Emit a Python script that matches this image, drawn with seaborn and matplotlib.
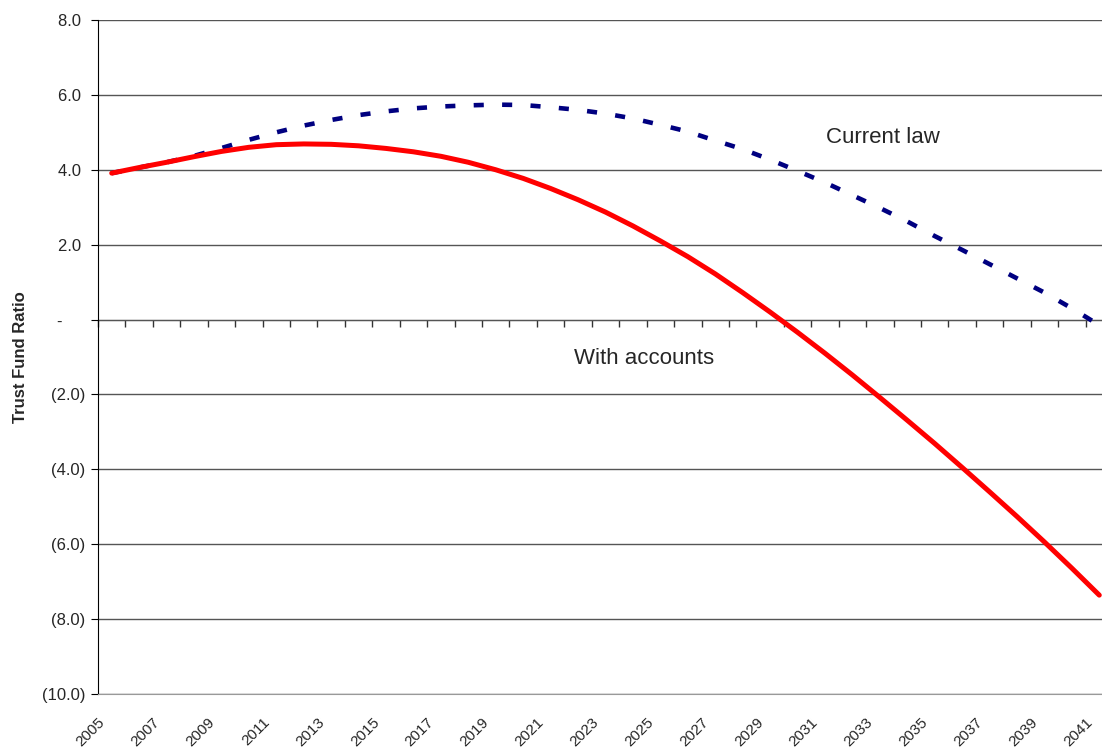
import numpy as np
import pandas as pd
import seaborn as sns
import matplotlib.pyplot as plt
import matplotlib.transforms as mtransforms
from matplotlib.ticker import FuncFormatter

sns.set_style("white")
plt.rcParams['font.family'] = ['Liberation Sans', 'DejaVu Sans']

years = list(range(2005, 2042))
current_law = [3.91, 4.06, 4.20, 4.37, 4.58, 4.80, 5.00, 5.18, 5.33, 5.46,
               5.56, 5.64, 5.69, 5.72, 5.74, 5.73, 5.67, 5.60, 5.50, 5.37,
               5.20, 5.02, 4.78, 4.55, 4.27, 3.97, 3.66, 3.32, 2.98, 2.62,
               2.23, 1.86, 1.48, 1.10, 0.72, 0.30, -0.15]
with_accounts = [3.91, 4.06, 4.20, 4.35, 4.49, 4.60, 4.67, 4.69, 4.68, 4.64,
                 4.57, 4.48, 4.36, 4.20, 4.00, 3.77, 3.50, 3.20, 2.87, 2.50,
                 2.10, 1.68, 1.22, 0.72, 0.20, -0.34, -0.90, -1.48, -2.08, -2.69,
                 -3.31, -3.95, -4.60, -5.26, -5.94, -6.64, -7.36]
y_ticks = [8, 6, 4, 2, 0, -2, -4, -6, -8, -10]

df = pd.DataFrame({'year': years, 'Current law': current_law, 'With accounts': with_accounts})

fig = plt.figure(figsize=(11.02, 7.48), dpi=100)
# plot area runs a little past the right edge of the picture (cropped like the original)
ax = fig.add_axes([98 / 1102, 54 / 748, 1015 / 1102, 674 / 748])

sns.lineplot(data=df, x='year', y='Current law', ax=ax, color='#000080', lw=3.3)
ax.lines[-1].set_dashes((2.2, 4.0))
sns.lineplot(data=df, x='year', y='With accounts', ax=ax, color='#FF0000', lw=3.6)


def fmt(v, p):
    if v == 0:
        return '-' + ' ' * 5
    if v > 0:
        return f'{v:.1f} '
    return f'({-v:.1f})'


ax.set_xlim(2004.5, 2041.5)
ax.set_ylim(-10, 8)
ax.set_yticks(y_ticks)
ax.yaxis.set_major_formatter(FuncFormatter(fmt))
ax.grid(axis='y', color='#555555', lw=1)
ax.set_axisbelow(True)

ax.set_xticks(years[::2])
ax.set_xticklabels([str(y) for y in years[::2]], rotation=45, ha='right',
                   rotation_mode='anchor', fontsize=11)
ax.tick_params(axis='x', length=0, pad=15)
shift = mtransforms.ScaledTranslation(-14 / 100, 0, fig.dpi_scale_trans)
for lab in ax.get_xticklabels():
    lab.set_transform(lab.get_transform() + shift)
ax.tick_params(axis='y', length=5, direction='out', color='black', labelsize=12, pad=4, left=True)

for s in ['top', 'right']:
    ax.spines[s].set_visible(False)
ax.spines['left'].set_color('black')
ax.spines['bottom'].set_color('#999999')

# zero line carrying the category tick marks
zero_ax = ax.secondary_xaxis(10 / 18)
zero_ax.set_xticks(np.arange(2004.5, 2042, 1))
zero_ax.set_xticklabels([])
zero_ax.tick_params(length=5, direction='in', color='#333333', width=1)
for s in zero_ax.spines.values():
    s.set_color('#555555')

ax.set_xlabel('')
ax.set_ylabel('Trust Fund Ratio', fontsize=12, fontweight='bold')
ax.yaxis.set_label_coords(-0.069, 0.5)

ax.text(2033.1, 4.85, 'Current law', fontsize=16, ha='center', va='center')
ax.text(2024.4, -1.03, 'With accounts', fontsize=16, ha='center', va='center')

fig.savefig('out.png', dpi=100)
